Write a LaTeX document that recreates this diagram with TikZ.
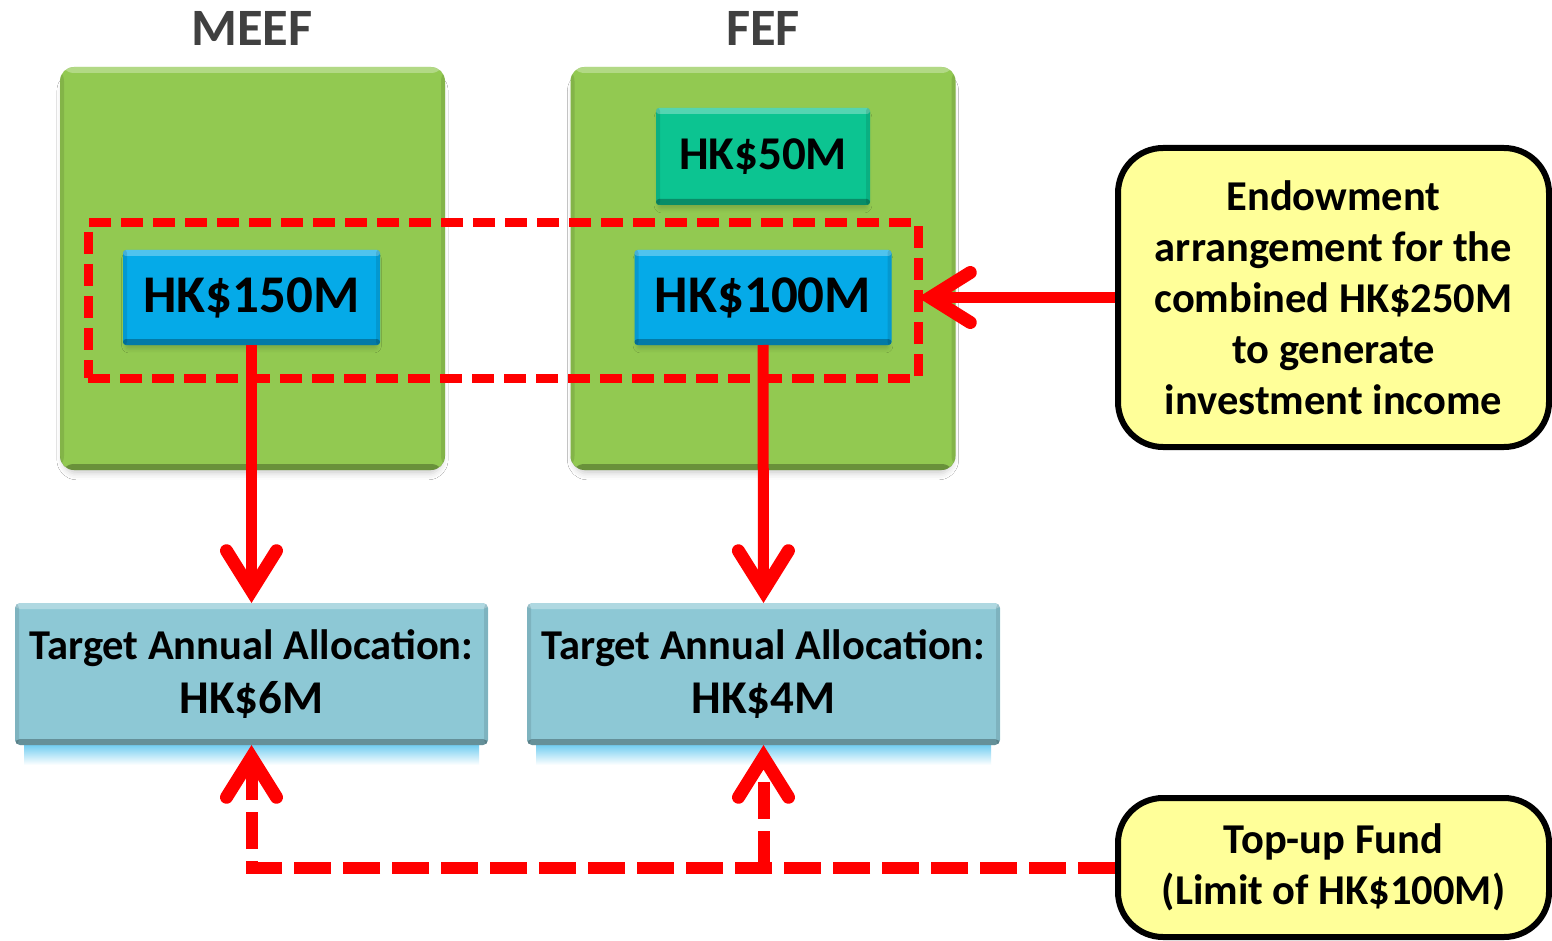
\documentclass[tikz,border=0pt]{standalone}
\usepackage{fontspec}
\setmainfont{Carlito}
\usetikzlibrary{arrows.meta,shadows.blur,backgrounds,calc}
\definecolor{fundgreen}{HTML}{92C951}
\definecolor{fundblue}{HTML}{05AAE8}
\definecolor{fundteal}{HTML}{0CC491}
\definecolor{targetblue}{HTML}{8DC8D5}
\definecolor{glowblue}{HTML}{6CCBF0}
\definecolor{noteyellow}{HTML}{FFFF99}
\definecolor{titlegray}{HTML}{404040}
\definecolor{arrowred}{HTML}{FF0000}
\newcommand\fsz[2]{\fontsize{#1}{#2}\selectfont}
\begin{document}
\begin{tikzpicture}[x=1pt,y=-1pt,
  bevel/.style={path picture={
    \fill[white,opacity=0.30] (path picture bounding box.north west) rectangle ([yshift=-6pt]path picture bounding box.north east);
    \fill[black,opacity=0.28] ([yshift=6pt]path picture bounding box.south west) rectangle (path picture bounding box.south east);
    \fill[black,opacity=0.10] (path picture bounding box.south west) rectangle ([xshift=4pt]path picture bounding box.north west);
    \fill[black,opacity=0.10] ([xshift=-4pt]path picture bounding box.south east) rectangle (path picture bounding box.north east);
  }},
  fundbox/.style={rectangle, rounded corners=14pt, fill=fundgreen, minimum width=385pt, minimum height=403pt,
    inner sep=0pt, outer sep=0pt, bevel,
    blur shadow={shadow xshift=0pt, shadow yshift=-7pt, shadow blur radius=6pt, shadow opacity=18, shadow scale=0.985}},
  amountbox/.style={rectangle, rounded corners=3pt, fill=fundblue, minimum width=257pt, minimum height=95pt,
    inner sep=0pt, outer sep=0pt, bevel, font=\fsz{53}{60}\bfseries,
    blur shadow={shadow xshift=0pt, shadow yshift=-5pt, shadow blur radius=4pt, shadow opacity=15, shadow scale=0.98}},
  targetbox/.style={rectangle, rounded corners=5pt, fill=targetblue, minimum width=473pt, minimum height=142pt,
    inner sep=0pt, outer sep=0pt, bevel, align=center, font=\fsz{42.5}{54}\bfseries},
  titletext/.style={font=\fsz{52.5}{58}\bfseries, text=titlegray, inner sep=0pt},
  notebox/.style={rectangle, rounded corners=45pt, draw=black, line width=6pt, fill=noteyellow,
    inner sep=0pt, outer sep=0pt, align=center, font=\fsz{42.5}{51}\bfseries},
  zonebox/.style={rectangle, draw=arrowred, line width=9pt, dash pattern=on 22pt off 10pt,
    minimum width=830pt, minimum height=155pt, inner sep=0pt, outer sep=0pt},
  redtip/.style={-{Straight Barb[length=40pt, width=50pt, line width=13pt, line cap=round, line join=miter]}},
  redarrow/.style={draw=arrowred, line width=11pt, redtip},
  dashedlink/.style={draw=arrowred, line width=12pt, dash pattern=on 37pt off 12pt}
]
\useasboundingbox (0,0) rectangle (1552,941);
\fill[white] (0,0) rectangle (1552,941);

% titles
\node[titletext] (meeftitle) at (252,28) {MEEF};
\node[titletext] (feftitle) at (763,28) {FEF};

% fund boxes
\node[fundbox] (meef) at (252.5,268.5) {};
\node[fundbox] (fef) at (763,268.5) {};

% amount boxes
\node[amountbox] (b150) at (251.5,297.5) {\raisebox{-2pt}{HK\$150M}};
\node[amountbox] (b100) at (763,297.5) {\raisebox{-2pt}{HK\$100M}};
\node[amountbox, fill=fundteal, minimum width=214pt, minimum height=97pt, font=\fsz{47}{54}\bfseries] (b50) at (763,156.5) {\raisebox{-2pt}{HK\$50M}};

% endowment zone
\node[zonebox] (zone) at (503,300.5) {};

% target boxes with glow
\shade[top color=glowblue, bottom color=white] (24,744) rectangle (479,765);
\shade[top color=glowblue, bottom color=white] (536,744) rectangle (991,765);
\node[targetbox] (tl) at (251.5,674) {Target Annual Allocation:\\{\fsz{47}{54}\bfseries HK\$6M}};
\node[targetbox] (tr) at (763.5,674) {Target Annual Allocation:\\{\fsz{47}{54}\bfseries HK\$4M}};

% notes
\node[notebox, minimum width=431pt, minimum height=299pt] (endow) at (1333.5,297.5)
  {Endowment\\arrangement for the\\combined HK\$250M\\to generate\\investment income};
\node[notebox, minimum width=431pt, minimum height=139pt] (topup) at (1333.5,867.5)
  {Top-up Fund\\(Limit of HK\$100M)};

% connectors
\draw[redarrow] (b150.south) -- (tl.north);
\draw[redarrow] (b100.south) -- (tr.north);
\draw[redarrow] ([xshift=-3pt]endow.west) -- (zone.east |- endow.west);
\draw[dashedlink, redtip] ([xshift=-3pt]topup.west) -- (tl.south |- topup.west) -- (tl.south);
\draw[dashedlink, redtip] (tr.south |- topup.west) -- (tr.south);
\end{tikzpicture}
\end{document}
